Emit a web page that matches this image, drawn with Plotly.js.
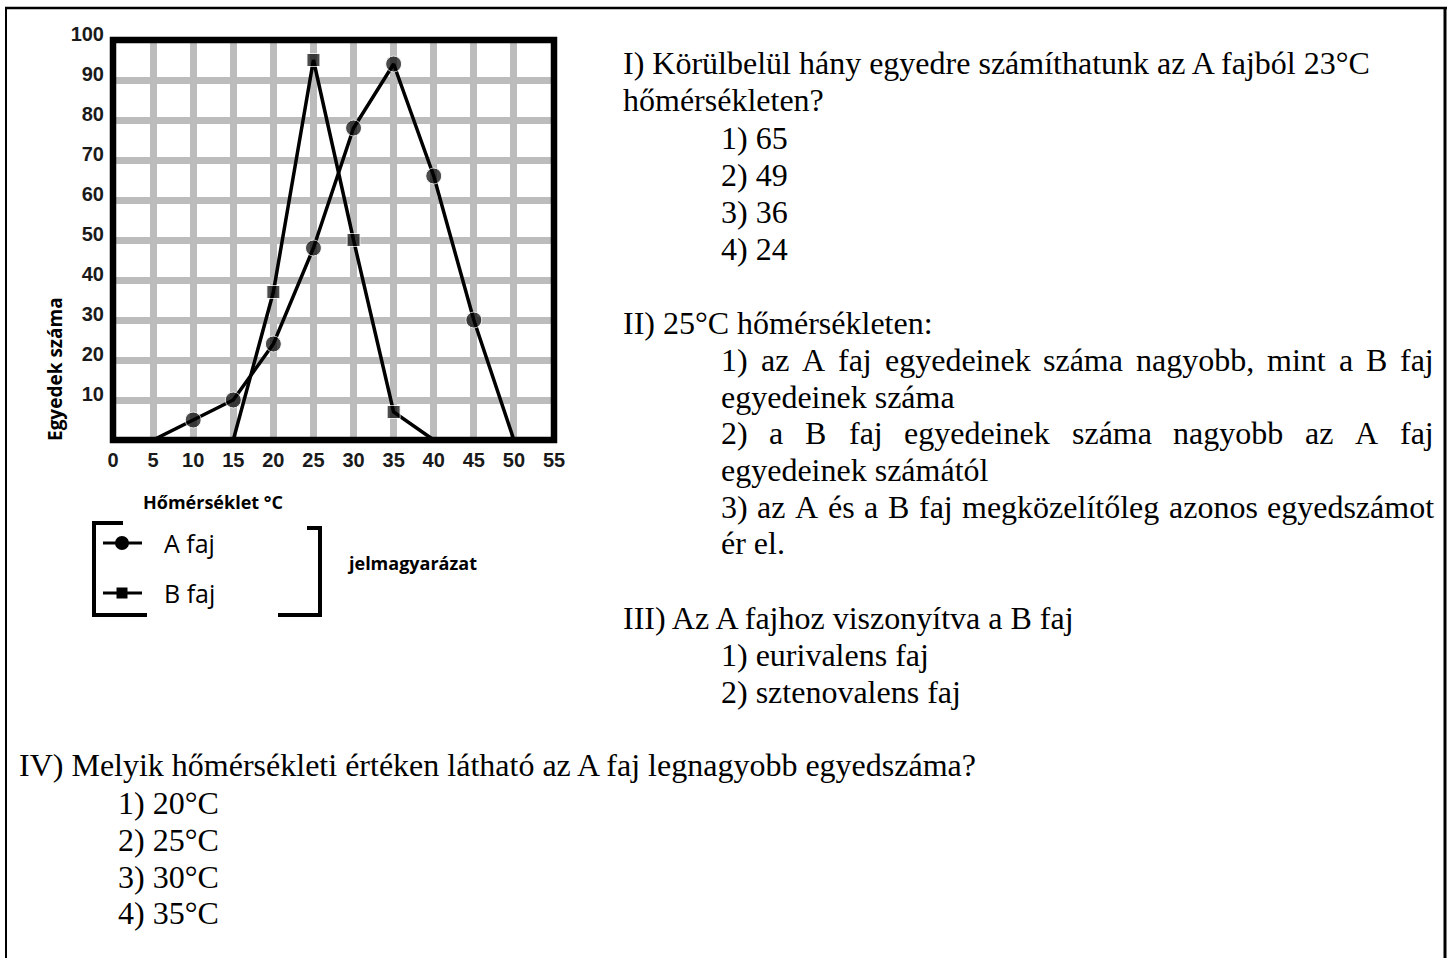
<!DOCTYPE html>
<html>
<head>
<meta charset="utf-8">
<script src="https://cdn.plot.ly/plotly-3.0.1.min.js"></script>
<style>
html,body{margin:0;padding:0;background:#fff;}
#chart{width:1452px;height:958px;}
</style>
</head>
<body>
<div id="chart"></div>
<script>
// ---------- data ----------
const tempA = [5, 10, 15, 20, 25, 30, 35, 40, 45, 50];
const countA = [0, 5, 10, 24, 48, 78, 94, 66, 30, 0];
const tempB = [15, 20, 25, 30, 35, 40];
const countB = [0, 37, 95, 50, 7, 0];
const xTickVals = [0, 5, 10, 15, 20, 25, 30, 35, 40, 45, 50, 55];
const yTickVals = [10, 20, 30, 40, 50, 60, 70, 80, 90, 100];
const seriesNames = ["A faj", "B faj"];
const xTitle = "Hőmérséklet °C";
const yTitle = "Egyedek száma";
const legendTitle = "jelmagyarázat";

// ---------- page geometry ----------
const W = 1452, H = 958;
const px = X => X / W;
const py = Y => 1 - Y / H;
const PL = 113, PR = 554, PT = 40, PB = 440;

const SERIF = "'Liberation Serif', 'Times New Roman', serif";
const SANS = "'Open Sans', 'Noto Sans', sans-serif";
const TICKF = "'Liberation Sans', Arial, sans-serif";
const FS = 32;

const traces = [
  {
    x: tempA, y: countA, name: seriesNames[0], type: "scatter", mode: "lines+markers",
    line: {color: "#000", width: 3.5},
    marker: {symbol: "circle", color: "#000", size: countA.map(v => v > 0 ? 16 : 0)},
    showlegend: false, cliponaxis: false
  },
  {
    x: tempB, y: countB, name: seriesNames[1], type: "scatter", mode: "lines+markers",
    line: {color: "#000", width: 3.5},
    marker: {symbol: "square", color: "#000", size: countB.map(v => v > 0 ? 13 : 0)},
    showlegend: false, cliponaxis: false
  }
];

// ---------- text ----------
const ann = [];
function addText(text, X, Y, opts) {
  opts = opts || {};
  ann.push(Object.assign({
    text: text, x: px(X), y: py(Y), xref: "paper", yref: "paper",
    xanchor: "left", yanchor: "middle", showarrow: false,
    font: {family: SERIF, size: FS, color: "#000"}
  }, opts));
}
const canvas = document.createElement("canvas");
const ctx = canvas.getContext("2d");
function justify(line, X0, X1, Y) {
  ctx.font = FS + "px 'Liberation Serif'";
  const words = line.split(" ");
  const widths = words.map(w => ctx.measureText(w).width);
  const total = widths.reduce((a, b) => a + b, 0);
  const gap = (X1 - X0 - total) / (words.length - 1);
  let x = X0;
  words.forEach((w, i) => { addText(w, x, Y); x += widths[i] + gap; });
}

const XL = 621, XI = 719, XR = 1432;
addText("I) Körülbelül hány egyedre számíthatunk az A fajból 23°C", XL, 63);
addText("hőmérsékleten?", XL, 100);
addText("1) 65", XI, 138);
addText("2) 49", XI, 175);
addText("3) 36", XI, 212);
addText("4) 24", XI, 249);

addText("II) 25°C hőmérsékleten:", XL, 323);
justify("1) az A faj egyedeinek száma nagyobb, mint a B faj", XI, XR, 360);
addText("egyedeinek száma", XI, 397);
justify("2) a B faj egyedeinek száma nagyobb az A faj", XI, XR, 433);
addText("egyedeinek számától", XI, 470);
justify("3) az A és a B faj megközelítőleg azonos egyedszámot", XI, XR, 507);
addText("ér el.", XI, 543);

addText("III) Az A fajhoz viszonyítva a B faj", XL, 618);
addText("1) eurivalens faj", XI, 655);
addText("2) sztenovalens faj", XI, 692);

addText("IV) Melyik hőmérsékleti értéken látható az A faj legnagyobb egyedszáma?", 17, 765);
addText("1) 20°C", 116, 803);
addText("2) 25°C", 116, 840);
addText("3) 30°C", 116, 877);
addText("4) 35°C", 116, 913);

// chart-side labels
addText(yTitle, 55, 369, {xanchor: "center", textangle: -90,
  font: {family: SANS, size: 19, color: "#000", weight: 700}});
addText(xTitle, 141, 502, {font: {family: SANS, size: 18, color: "#000", weight: 700}});
addText(seriesNames[0], 162, 543, {font: {family: SANS, size: 25, color: "#000"}});
addText(seriesNames[1], 162, 593, {font: {family: SANS, size: 25, color: "#000"}});
addText(legendTitle, 345, 563, {font: {family: SANS, size: 18, color: "#000", weight: 700}});

// ---------- shapes ----------
const shapes = [];
function pline(X0, Y0, X1, Y1, w, c) {
  shapes.push({type: "line", xref: "paper", yref: "paper", x0: px(X0), y0: py(Y0), x1: px(X1), y1: py(Y1),
    line: {color: c || "#000", width: w}, layer: "above"});
}
function ppath(pts, w) {
  const d = pts.map((p, i) => (i ? "L" : "M") + px(p[0]) + "," + py(p[1])).join(" ");
  shapes.push({type: "path", xref: "paper", yref: "paper", path: d, line: {color: "#000", width: w}, layer: "above"});
}
// page border
pline(6, 7, 6, 958, 2);
pline(5, 8, 1447, 8, 2.5);
pline(1445, 7, 1445, 958, 3);
// plot frame
shapes.push({type: "rect", xref: "paper", yref: "paper", x0: px(PL), x1: px(PR), y0: py(PB), y1: py(PT),
  line: {color: "#000", width: 6.5}, layer: "above"});
// legend brackets
ppath([[123, 523], [94, 523], [94, 615], [147, 615]], 4);
ppath([[307, 528], [320, 528], [320, 615], [278, 615]], 4);
// legend glyphs
pline(103, 543, 142, 543, 3);
pline(103, 593, 142, 593, 3);
shapes.push({type: "circle", xref: "paper", yref: "paper", x0: px(115), x1: px(129), y0: py(550), y1: py(536),
  fillcolor: "#000", line: {color: "#000", width: 0}, layer: "above"});
shapes.push({type: "rect", xref: "paper", yref: "paper", x0: px(116.5), x1: px(127.5), y0: py(598.5), y1: py(587.5),
  fillcolor: "#000", line: {color: "#000", width: 0}, layer: "above"});

const layout = {
  width: W, height: H,
  margin: {l: 0, r: 0, t: 0, b: 0, pad: 0},
  paper_bgcolor: "#fff", plot_bgcolor: "#fff",
  showlegend: false,
  xaxis: {
    domain: [px(PL), px(PR)], range: [0, 55], tickvals: xTickVals, ticktext: xTickVals.map(String),
    showgrid: true, gridcolor: "#bcbcbc", gridwidth: 7, zeroline: false, showline: false,
    ticks: "", ticklabelstandoff: 6,
    tickfont: {family: TICKF, size: 20, color: "#1a1a1a", weight: 700}, fixedrange: true
  },
  yaxis: {
    domain: [py(PB), py(PT)], range: [0, 100], tickvals: yTickVals, ticktext: yTickVals.map(String),
    showgrid: true, gridcolor: "#bcbcbc", gridwidth: 7, zeroline: false, showline: false,
    ticks: "", ticklabelstandoff: 8, ticklabelshift: -6,
    tickfont: {family: TICKF, size: 20, color: "#1a1a1a", weight: 700}, fixedrange: true
  },
  annotations: ann,
  shapes: shapes
};

Plotly.newPlot("chart", traces, layout, {displayModeBar: false, staticPlot: true});
</script>
</body>
</html>
